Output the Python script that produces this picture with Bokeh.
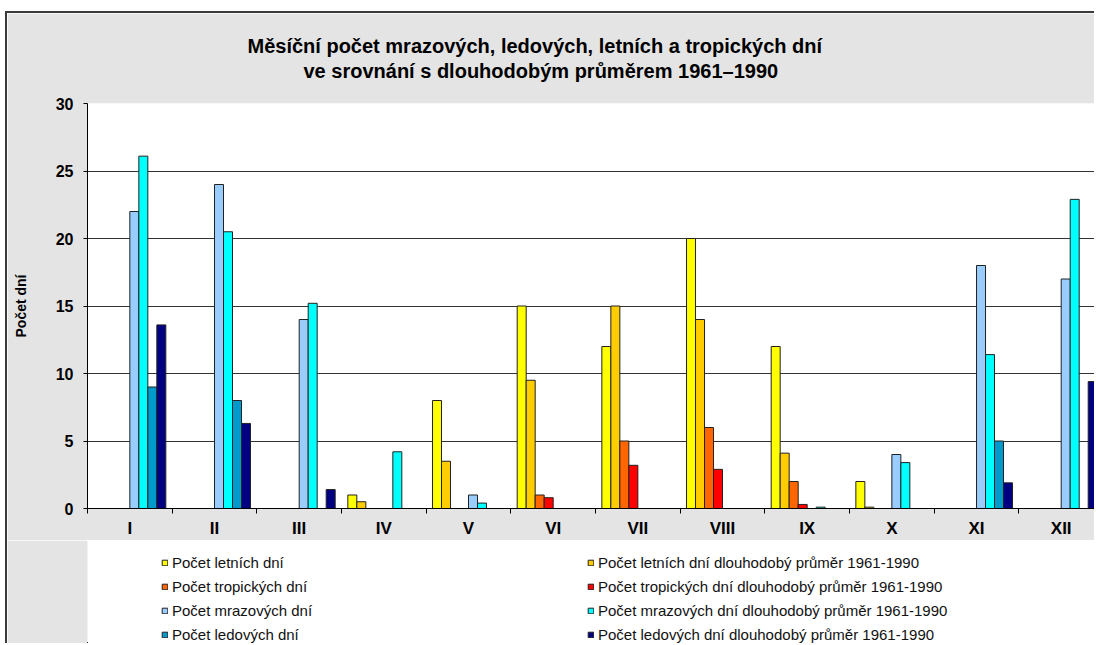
from bokeh.plotting import figure
from bokeh.layouts import column
from bokeh.models import FixedTicker, Legend, LegendItem, Title, Range1d
from bokeh.embed import file_html
from bokeh.resources import INLINE

# ---- data ----
months = ["I", "II", "III", "IV", "V", "VI", "VII", "VIII", "IX", "X", "XI", "XII"]
letni = [0, 0, 0, 1, 8, 15, 12, 20, 12, 2, 0, 0]
letni_avg = [0, 0, 0, 0.5, 3.5, 9.5, 15, 14, 4.1, 0.1, 0, 0]
tropicke = [0, 0, 0, 0, 0, 1, 5, 6, 2, 0, 0, 0]
tropicke_avg = [0, 0, 0, 0, 0, 0.8, 3.2, 2.9, 0.3, 0, 0, 0]
mrazove = [22, 24, 14, 0, 1, 0, 0, 0, 0, 4, 18, 17]
mrazove_avg = [26.1, 20.5, 15.2, 4.2, 0.4, 0, 0, 0, 0.1, 3.4, 11.4, 22.9]
ledove = [9, 8, 0, 0, 0, 0, 0, 0, 0, 0, 5, 0]
ledove_avg = [13.6, 6.3, 1.4, 0, 0, 0, 0, 0, 0, 0, 1.9, 9.4]

series_names = [
    "Počet letních dní",
    "Počet letních dní dlouhodobý průměr 1961-1990",
    "Počet tropických dní",
    "Počet tropických dní dlouhodobý průměr 1961-1990",
    "Počet mrazových dní",
    "Počet mrazových dní dlouhodobý průměr 1961-1990",
    "Počet ledových dní",
    "Počet ledových dní dlouhodobý průměr 1961-1990",
]
series_values = [letni, letni_avg, tropicke, tropicke_avg,
                 mrazove, mrazove_avg, ledove, ledove_avg]
colors = ["#FFFF00", "#FFCC00", "#FF6600", "#FF0000",
          "#99CCFF", "#00FFFF", "#0099CC", "#000080"]
title_lines = ["Měsíční počet mrazových, ledových, letních a tropických dní",
               "ve srovnání s dlouhodobým průměrem 1961–1990"]
y_ticks = [0, 5, 10, 15, 20, 25, 30]

FONT = "Liberation Sans"
BG = "#e4e4e4"
EDGE = "2px solid #3a3a3a"

# ---------------- main chart ----------------
p = figure(width=1089, height=529,
           x_range=Range1d(0, 11.917), y_range=Range1d(0, 30),
           output_backend="svg", toolbar_location=None,
           min_border_left=80, min_border_right=0,
           min_border_top=90, min_border_bottom=34)
p.margin = (11, 0, 0, 5)
p.styles = {"border-top": EDGE, "border-left": EDGE}
p.background_fill_color = "white"
p.border_fill_color = BG
p.outline_line_color = None

bw = 0.1063
bar_renderers = []
for i, (vals, col) in enumerate(zip(series_values, colors)):
    xs = [m + 0.5 + (i - 3.5) * bw for m, v in enumerate(vals) if v > 0]
    tops = [v for v in vals if v > 0]
    bar_renderers.append(p.vbar(x=xs, top=tops, bottom=0, width=bw,
                                fill_color=col, line_color="#222222", line_width=1))

p.xgrid.visible = False
p.ygrid.ticker = FixedTicker(ticks=y_ticks)
p.ygrid.grid_line_color = "#333333"
p.ygrid.grid_line_width = 1

p.yaxis.ticker = FixedTicker(ticks=y_ticks)
p.yaxis.axis_line_color = "black"
p.yaxis.major_tick_out = 4
p.yaxis.major_tick_in = 0
p.yaxis.minor_tick_line_color = None
p.yaxis.major_label_text_font = FONT
p.yaxis.major_label_text_font_style = "bold"
p.yaxis.major_label_text_font_size = "16px"
p.yaxis.major_label_text_color = "black"
p.yaxis.major_label_standoff = 10
p.yaxis.axis_label = "Počet dní"
p.yaxis.axis_label_text_font = FONT
p.yaxis.axis_label_text_font_style = "bold"
p.yaxis.axis_label_text_font_size = "14px"
p.yaxis.axis_label_text_color = "black"
p.yaxis.axis_label_standoff = 24

centers = [m + 0.5 for m in range(len(months))]
p.xaxis.ticker = FixedTicker(ticks=centers, minor_ticks=list(range(len(months) + 1)))
p.xaxis.major_label_overrides = {c: lab for c, lab in zip(centers, months)}
p.xaxis.axis_line_color = "black"
p.xaxis.major_tick_out = 0
p.xaxis.major_tick_in = 0
p.xaxis.minor_tick_out = 5
p.xaxis.minor_tick_in = 0
p.xaxis.minor_tick_line_color = "black"
p.xaxis.major_label_text_font = FONT
p.xaxis.major_label_text_font_style = "bold"
p.xaxis.major_label_text_font_size = "17px"
p.xaxis.major_label_text_color = "black"
p.xaxis.major_label_standoff = 5

p.add_layout(Title(text=" ", text_font_size="1px", standoff=18), "above")
for txt, off in [(title_lines[1], 216), (title_lines[0], 160)]:
    p.add_layout(Title(text=txt, align="left", offset=off, standoff=1,
                       vertical_align="bottom",
                       text_font=FONT, text_font_style="bold",
                       text_font_size="20px", text_color="black"), "above")

# ---------------- legend strip ----------------
q = figure(width=1089, height=103, x_range=Range1d(0, 1009), y_range=Range1d(0, 103),
           output_backend="svg", toolbar_location=None,
           min_border_left=80, min_border_right=0, min_border_top=0, min_border_bottom=0)
q.margin = (0, 0, 0, 5)
q.styles = {"border-left": EDGE}
q.axis.visible = False
q.grid.visible = False
q.background_fill_color = BG
q.background_fill_alpha = 0
q.border_fill_color = BG
q.outline_line_color = None

# legend swatches take their colours from renderers placed outside the visible range
leg_renderers = [q.vbar(x=[-100], top=[1], width=1, fill_color=c,
                        line_color="#222222", line_width=1) for c in colors]
items = [LegendItem(label=n, renderers=[r]) for n, r in zip(series_names, leg_renderers)]
leg = Legend(items=items, location=(74, -0.5), orientation="horizontal", ncols=2,
             glyph_width=7, glyph_height=7, label_standoff=4,
             label_width=410, label_height=19, spacing=5,
             padding=8, margin=0,
             label_text_font=FONT, label_text_font_size="15px",
             label_text_color="#111111",
             background_fill_alpha=0, border_line_color=None)
q.add_layout(leg, "center")

layout = column(p, q, spacing=0)
open("out.html", "w").write(file_html(layout, INLINE))
